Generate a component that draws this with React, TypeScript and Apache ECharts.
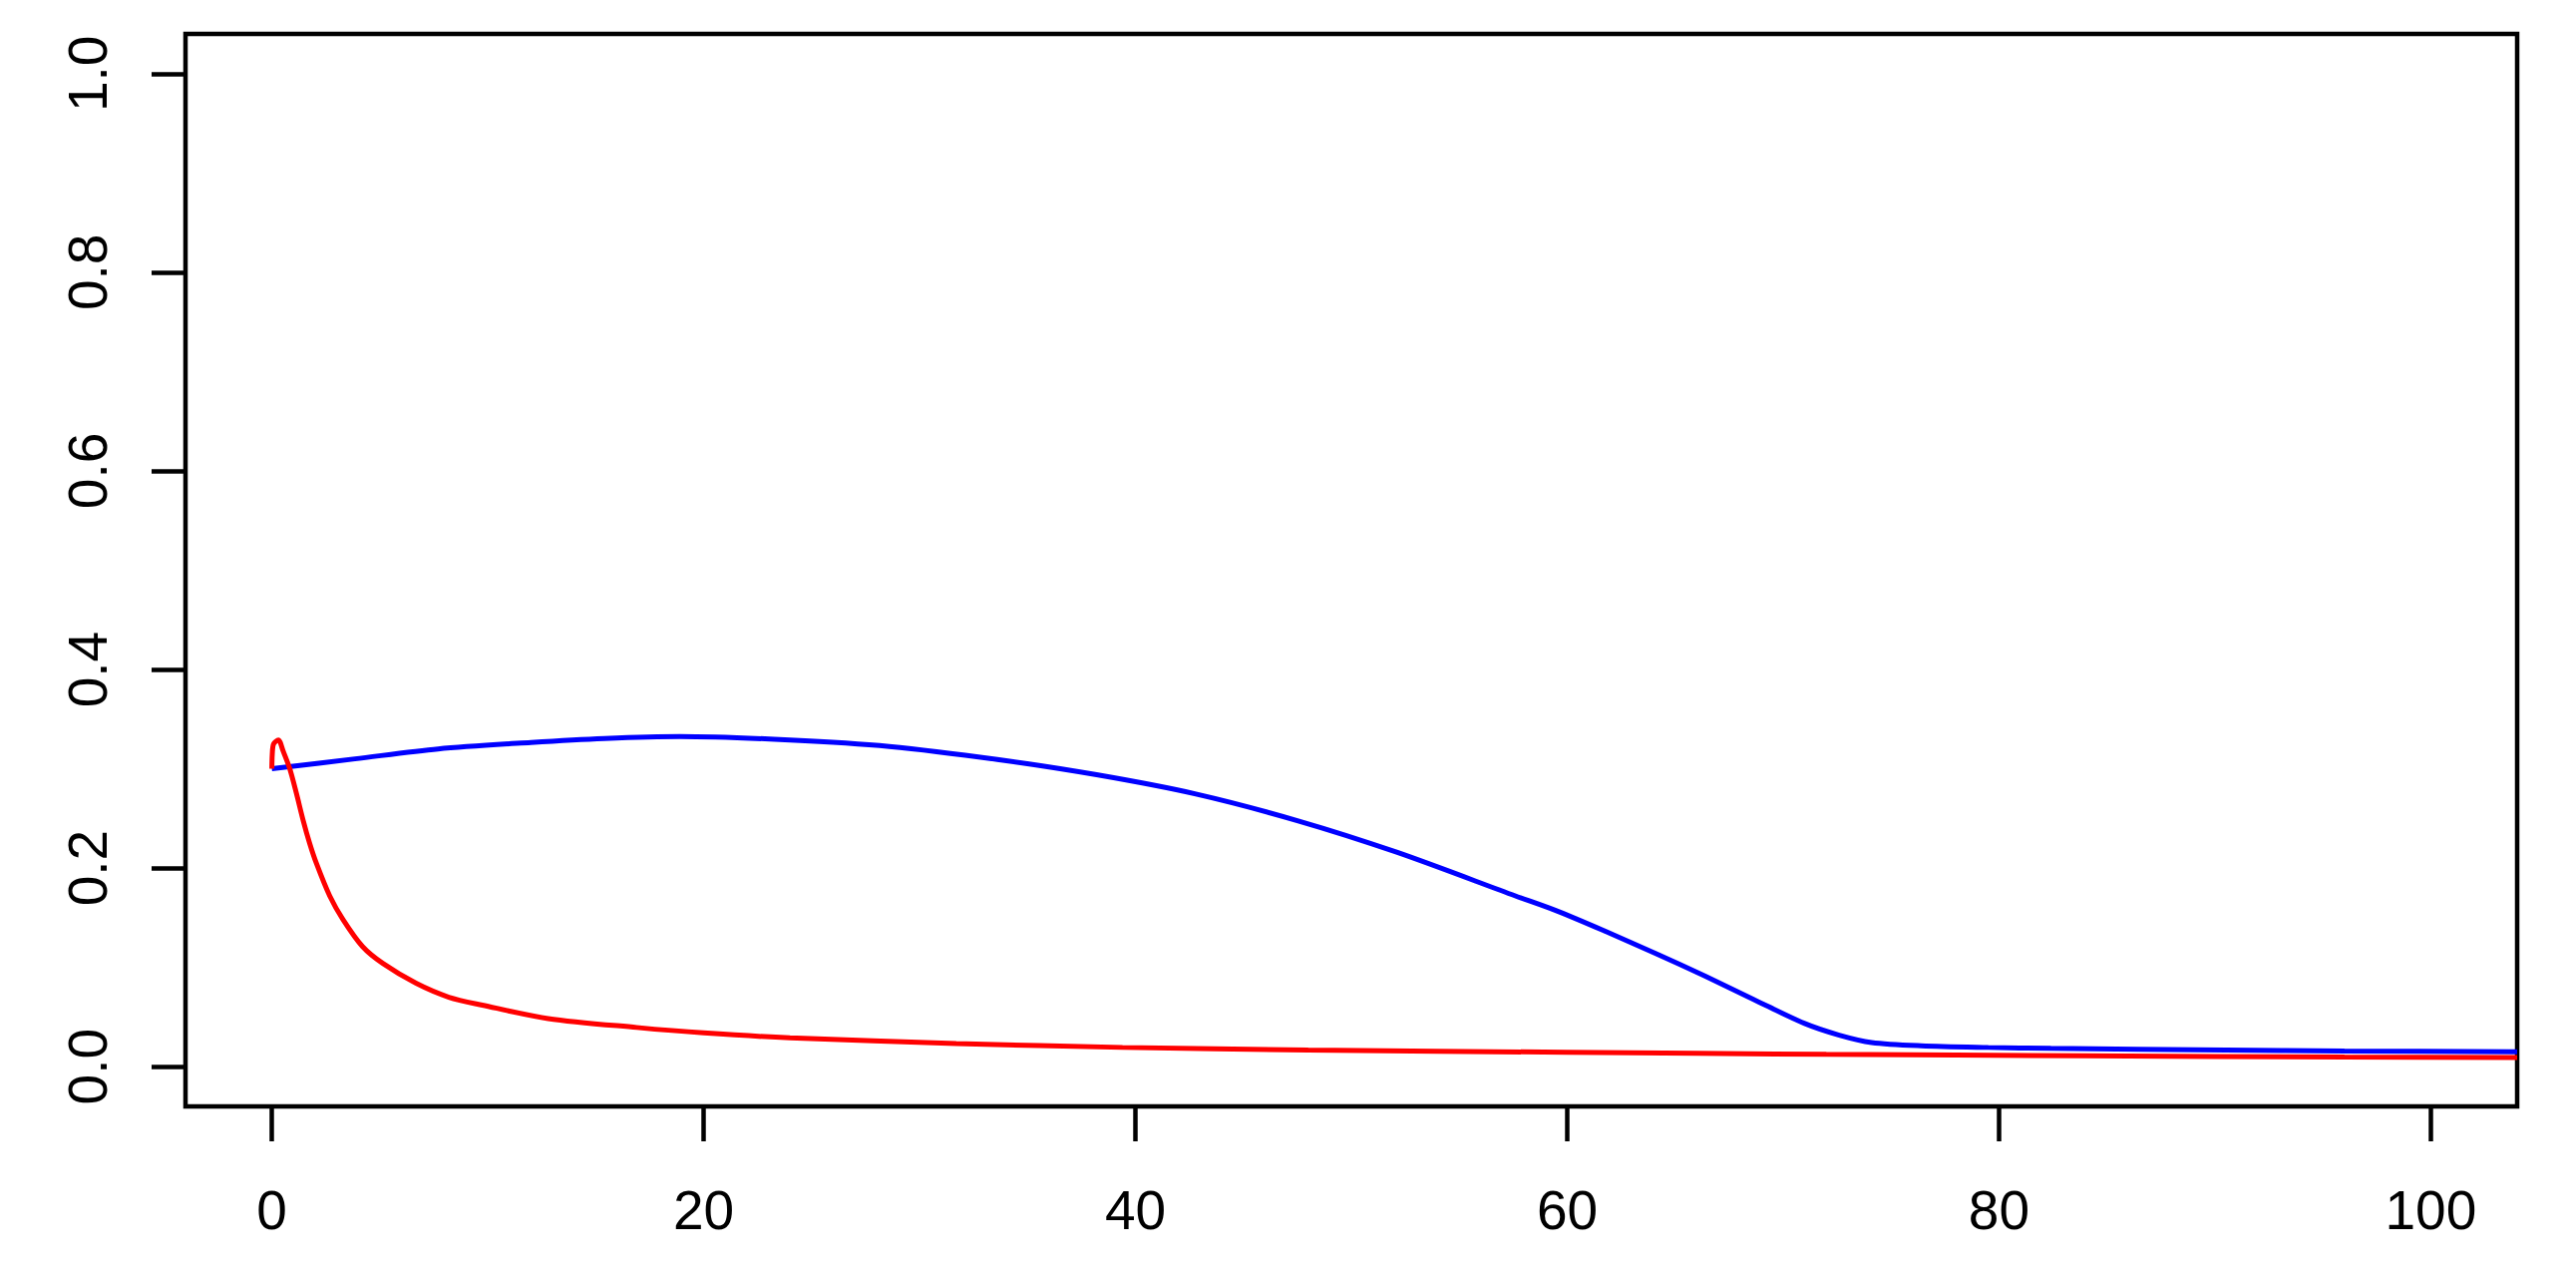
import { useEffect, useRef } from "react";
import * as echarts from "echarts";

const xTicks = [0, 20, 40, 60, 80, 100];
const yTicks = [0, 0.2, 0.4, 0.6, 0.8, 1.0];

// blue curve
const blueX = [0, 3.85, 7.7, 12, 15.4, 18.9, 24, 28.6, 33.6, 38.2, 42.8, 47.5, 52.1, 57.6, 59.5, 61.8, 64.1, 66.4, 68.7, 71, 72.6, 74.1, 76.4, 79.5, 82.4, 90.5, 96, 104];
const blueY = [0.3, 0.31, 0.32, 0.3265, 0.3305, 0.3325, 0.329, 0.3225, 0.3094, 0.294, 0.2746, 0.2478, 0.216, 0.172, 0.157, 0.136, 0.114, 0.091, 0.067, 0.0435, 0.0318, 0.0244, 0.0211, 0.0194, 0.0184, 0.0168, 0.0158, 0.015];

// red curve (small hook at the start)
const redX = [0, 0.02, 0.08, 0.3, 0.52, 0.83, 1.14, 1.45, 1.75, 2.06, 2.68, 3.3, 4.2, 5.14, 6.68, 8.2, 9.75, 12.8, 16.9, 20, 24, 31.7, 39.4, 48, 60, 72, 84, 96, 104];
const redY = [0.3, 0.315, 0.325, 0.329, 0.318, 0.3, 0.275, 0.248, 0.225, 0.205, 0.172, 0.148, 0.121, 0.104, 0.084, 0.07, 0.062, 0.0485, 0.0395, 0.034, 0.029, 0.0234, 0.0194, 0.0168, 0.0145, 0.0124, 0.011, 0.0097, 0.0093];

const zip = (xs: number[], ys: number[]) => xs.map((x, i) => [x, ys[i]]);

export default function App() {
  const chartRef = useRef<HTMLDivElement>(null);

  useEffect(() => {
    if (!chartRef.current) return;
    const chart = echarts.init(chartRef.current, null, { renderer: "svg" });

    const font = { fontFamily: "Liberation Sans", fontSize: 55, color: "#000" };

    const option: echarts.EChartsOption = {
      animation: false,
      backgroundColor: "#fff",
      grid: {
        left: 186,
        right: 59,
        top: 34,
        bottom: 177,
        show: true,
        borderColor: "#000",
        borderWidth: 4.5,
        backgroundColor: "transparent"
      },
      xAxis: {
        type: "value",
        min: -4,
        max: 104,
        axisLine: { show: false, onZero: false },
        splitLine: { show: false },
        axisTick: {
          show: true,
          inside: false,
          length: 35,
          customValues: xTicks,
          lineStyle: { color: "#000", width: 4.5 }
        },
        axisLabel: {
          ...font,
          margin: 76,
          customValues: xTicks,
          formatter: (v: number) => String(v)
        }
      },
      yAxis: {
        type: "value",
        min: -0.04,
        max: 1.04,
        axisLine: { show: false, onZero: false },
        splitLine: { show: false },
        axisTick: {
          show: true,
          inside: false,
          length: 34,
          customValues: yTicks,
          lineStyle: { color: "#000", width: 4.5 }
        },
        axisLabel: {
          ...font,
          rotate: 90,
          margin: 71,
          customValues: yTicks,
          formatter: (v: number) => v.toFixed(1)
        }
      },
      series: [
        {
          type: "line",
          data: zip(blueX, blueY),
          showSymbol: false,
          smooth: 0.3,
          clip: true,
          lineStyle: { color: "#0000ff", width: 5 }
        },
        {
          type: "line",
          data: zip(redX, redY),
          showSymbol: false,
          smooth: 0.3,
          clip: true,
          lineStyle: { color: "#ff0000", width: 5 }
        }
      ]
    };

    chart.setOption(option);
    const handleResize = () => chart.resize();
    window.addEventListener("resize", handleResize);
    return () => {
      window.removeEventListener("resize", handleResize);
      chart.dispose();
    };
  }, []);

  return (
    <div
      ref={chartRef}
      style={{ position: "fixed", left: 0, top: 0, width: "100vw", height: "100vh", background: "#fff" }}
    />
  );
}
